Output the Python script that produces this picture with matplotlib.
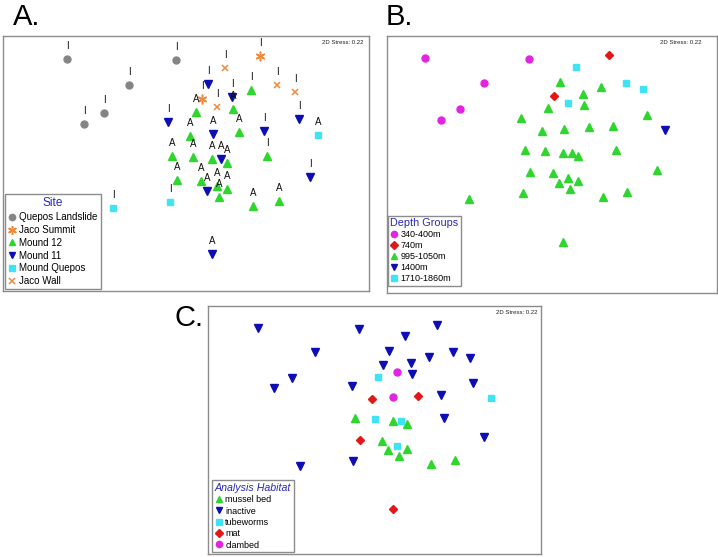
import matplotlib
matplotlib.use("Agg")
import matplotlib.pyplot as plt
from matplotlib.lines import Line2D

plt.rcParams['font.family'] = ['Liberation Sans', 'DejaVu Sans']

# nMDS coordinates, one entry per sample
mds1 = [-1.33, -0.24, -0.71, -0.96, -1.16,
        0.60, 0.02,
        0.25, 0.77, 0.95, 0.17,
        0.51, -0.04, 0.33, -0.10, 0.39, -0.28, -0.07, 0.12, 0.27, 0.67,
        -0.23, 0.01, 0.17, 0.27, 0.19, 0.53, 0.79,
        0.08, 0.32, -0.32, 0.13, 0.64, 0.99, 0.21, 1.10, 0.07, 0.12,
        1.18, -0.87, -0.30]
mds2 = [0.91, 0.90, 0.65, 0.37, 0.26,
        0.94, 0.51,
        0.82, 0.65, 0.58, 0.43,
        0.60, 0.38, 0.41, 0.14, 0.18, -0.06, -0.07, -0.09, -0.13, -0.06,
        -0.30, -0.31, -0.36, -0.39, -0.47, -0.56, -0.51,
        0.66, 0.53, 0.28, 0.16, 0.19, 0.31, -0.09, -0.27, -0.41, -1.04,
        0.15, -0.58, -0.52]
site = (["Quepos Landslide"] * 5 + ["Jaco Summit"] * 2 + ["Jaco Wall"] * 4
        + ["Mound 12"] * 17 + ["Mound 11"] * 10 + ["Mound Quepos"] * 3)
activity = (["I"] * 11
            + ["I", "A", "A", "A", "A", "A", "A", "A", "A", "I",
               "A", "A", "A", "A", "A", "A", "A"]
            + ["I", "I", "I", "A", "I", "I", "A", "I", "A", "A"]
            + ["A", "I", "I"])
depth = (["340-400m"] * 5 + ["740m"] * 2 + ["1710-1860m"] * 4
         + ["995-1050m"] * 27 + ["1400m", "995-1050m", "995-1050m"])
habitat = (["inactive"] * 10 + ["clambed"]
           + ["inactive", "tubeworms", "inactive", "mat", "mat", "mussel bed",
              "tubeworms", "mussel bed", "mussel bed", "inactive", "mat",
              "mussel bed", "tubeworms", "mussel bed", "mussel bed",
              "mussel bed", "mussel bed"]
           + ["inactive", "inactive", "inactive", "clambed", "inactive",
              "inactive", "tubeworms", "inactive", "mussel bed", "mat"]
           + ["tubeworms", "inactive", "inactive"])

site_order = ["Quepos Landslide", "Jaco Summit", "Mound 12", "Mound 11",
              "Mound Quepos", "Jaco Wall"]
depth_order = ["340-400m", "740m", "995-1050m", "1400m", "1710-1860m"]
habitat_order = ["mussel bed", "inactive", "tubeworms", "mat", "clambed"]

GRAY = "#858585"
ORANGE = "#ef8a3c"
GREEN = "#2ed62e"
BLUE = "#0d0db4"
CYAN = "#3fe3f3"
MAGENTA = "#e024e0"
RED = "#e01818"
TITLE = "#2a2ab8"

tri_up = dict(marker="^", color=GREEN, ms=5.5)
tri_dn = dict(marker="v", color=BLUE, ms=5.5)
square = dict(marker="s", color=CYAN, ms=4.8)
circ_g = dict(marker="o", color=GRAY, ms=5.0)
circ_m = dict(marker="o", color=MAGENTA, ms=5.0)
diam = dict(marker="D", color=RED, ms=4.0)
aster = dict(marker=(6, 2, 0), color=ORANGE, ms=7, mew=1.1)
cross = dict(marker="x", color=ORANGE, ms=5, mew=1.1)

site_style = {"Quepos Landslide": circ_g, "Jaco Summit": aster,
              "Mound 12": tri_up, "Mound 11": tri_dn,
              "Mound Quepos": square, "Jaco Wall": cross}
depth_style = {"340-400m": circ_m, "740m": diam, "995-1050m": tri_up,
               "1400m": tri_dn, "1710-1860m": square}
habitat_style = {"mussel bed": tri_up, "inactive": tri_dn,
                 "tubeworms": square, "mat": diam, "clambed": circ_m}

W, H = 718, 557
fig = plt.figure(figsize=(W / 100, H / 100), dpi=100)


def add_panel(x0, y0, x1, y1, stress_x):
    ax = fig.add_axes([x0 / W, 1 - y1 / H, (x1 - x0) / W, (y1 - y0) / H])
    ax.set_xticks([])
    ax.set_yticks([])
    for s in ax.spines.values():
        s.set_color("#8c8c8c")
        s.set_linewidth(1.0)
    fig.text(stress_x / W, 1 - (y0 + 6.5) / H, "2D Stress: 0.22",
             ha="right", va="center", fontsize=4.3, color="#222222")
    return ax


def draw(ax, groups, order, styles):
    for g in order:
        xs = [x for x, k in zip(mds1, groups) if k == g]
        ys = [y for y, k in zip(mds2, groups) if k == g]
        st = dict(styles[g])
        c = st.pop("color")
        ax.plot(xs, ys, ls="none", mfc=c, mec=c, **st)


def legend(ax, order, styles, title, anchor, align, fs, tfs, sp,
           italic=False):
    handles = []
    for g in order:
        st = dict(styles[g])
        c = st.pop("color")
        st["ms"] = st["ms"] * 0.9
        handles.append(Line2D([], [], ls="none", mfc=c, mec=c, label=g, **st))
    leg = ax.legend(handles=handles, title=title, loc="lower left",
                    bbox_to_anchor=anchor, borderaxespad=0, fontsize=fs,
                    title_fontsize=tfs, handlelength=0.8, handletextpad=0.35,
                    labelspacing=sp, borderpad=0.3, fancybox=False,
                    framealpha=1, edgecolor="#8c8c8c", alignment=align)
    leg.get_frame().set_linewidth(1.0)
    leg.get_title().set_color(TITLE)
    if italic:
        leg.get_title().set_fontstyle("italic")


# A. site
axA = add_panel(3.3, 36, 369, 291, 363)
axA.set_xlim(-1.967, 1.69)
axA.set_ylim(-1.41, 1.14)
draw(axA, site, site_order, site_style)
for x, y, t in zip(mds1, mds2, activity):
    axA.annotate(t, (x, y), xytext=(0, 9.5), textcoords="offset points",
                 ha="center", va="center", fontsize=7, color="#111111")
legend(axA, site_order, site_style, "Site", (0.005, 0.007), "center",
       7.0, 8.6, 0.29)
fig.text(13 / W, 1 - 25 / H, "A.", fontsize=21, ha="left", va="baseline")

# B. depth
axB = add_panel(386.7, 36, 716.7, 293, 702)
axB.set_xlim(-1.731, 1.724)
axB.set_ylim(-1.574, 1.143)
draw(axB, depth, depth_order, depth_style)
legend(axB, depth_order, depth_style, "Depth Groups", (0.003, 0.027), "left",
       6.5, 7.8, 0.22)
fig.text(386 / W, 1 - 25 / H, "B.", fontsize=21, ha="left", va="baseline")

# C. habitat
axC = add_panel(208.3, 306, 541, 553.5, 537)
axC.set_xlim(-1.861, 1.716)
axC.set_ylim(-1.52, 1.144)
draw(axC, habitat, habitat_order, habitat_style)
legend(axC, habitat_order, habitat_style, "Analysis Habitat",
       (0.012, 0.005), "left", 6.5, 7.7, 0.26, italic=True)
fig.text(174 / W, 1 - 326.5 / H, "C.", fontsize=21, ha="left", va="baseline")

fig.savefig("out.png", dpi=100)
